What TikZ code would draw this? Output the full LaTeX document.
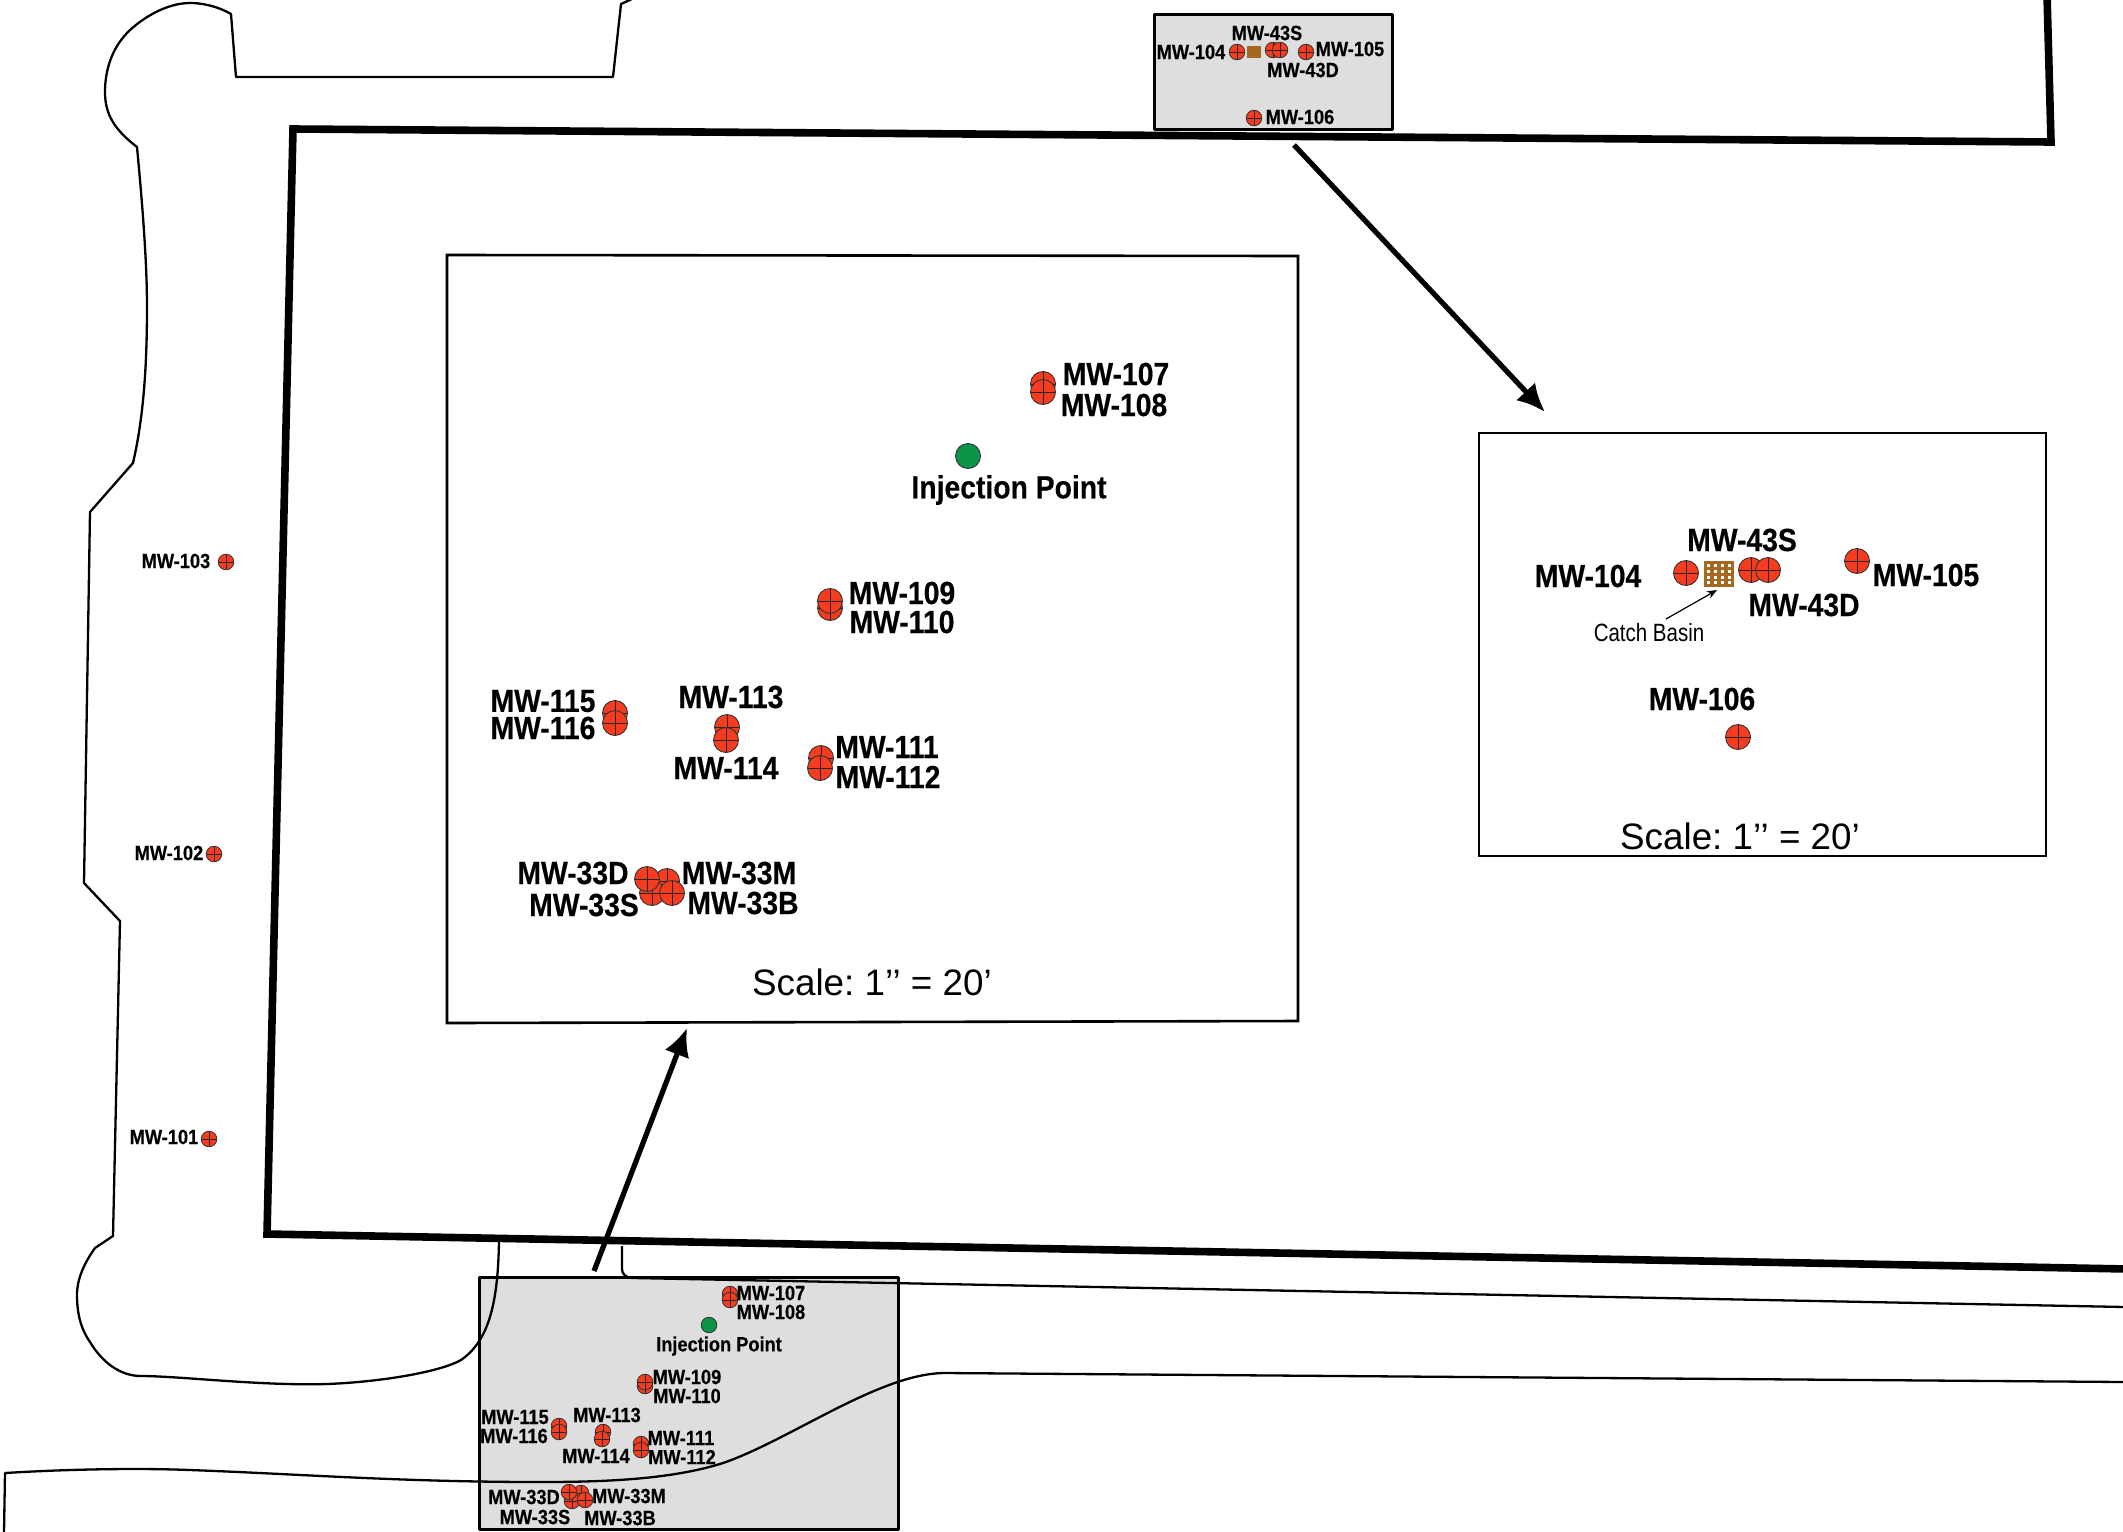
\documentclass[tikz,border=0pt]{standalone}
\usepackage{fontspec}
\setmainfont{Liberation Sans}
\newfontfamily\narrowfont[FakeStretch=0.885,BoldFeatures={FakeBold=0.3}]{Liberation Sans}
\newfontfamily\basinfont[FakeStretch=0.82]{Liberation Sans}
\usetikzlibrary{arrows.meta}
\definecolor{wellred}{HTML}{F53C1E}
\definecolor{wellgreen}{HTML}{0B9447}
\definecolor{basin}{HTML}{A5681F}
\definecolor{panelgrey}{HTML}{DEDEDE}
\tikzset{
  cross/.style={path picture={
    \draw[line width=0.42pt,black!85] (path picture bounding box.north) -- (path picture bounding box.south);
    \draw[line width=0.42pt,black!85] (path picture bounding box.west) -- (path picture bounding box.east);}},
  wellL/.style={circle,draw=black!80,line width=0.45pt,fill=wellred,inner sep=0pt,minimum size=12.5pt,cross},
  wellS/.style={circle,draw=black!80,line width=0.4pt,fill=wellred,inner sep=0pt,minimum size=7.8pt,cross},
  injL/.style={circle,draw=black!80,line width=0.45pt,fill=wellgreen,inner sep=0pt,minimum size=12.5pt},
  injS/.style={circle,draw=black!80,line width=0.4pt,fill=wellgreen,inner sep=0pt,minimum size=7.8pt},
  labL/.style={inner sep=0pt,font=\narrowfont\bfseries\fontsize{16}{16}\selectfont},
  labS/.style={inner sep=0pt,font=\narrowfont\bfseries\fontsize{10.3}{10.3}\selectfont},
  scaletxt/.style={inner sep=0pt,font=\frenchspacing\fontsize{18.4}{19}\selectfont},
  basintxt/.style={inner sep=0pt,font=\basinfont\fontsize{12.5}{13}\selectfont},
  thin line/.style={draw=black,line width=1.15pt,line join=round},
  boundary/.style={draw=black,line width=3.8pt,line join=miter},
  frame/.style={draw=black,line width=1.3pt,line join=miter},
  greypanel/.style={draw=black,fill=panelgrey,line width=1.5pt,line join=round},
  bigarrow/.style={draw=black,line width=2.6pt,-{Latex[length=14pt,width=13pt]}},
  thinarrow/.style={draw=black,line width=0.6pt,-{Stealth[length=5pt,width=4pt]}},
}
\begin{document}
\begin{tikzpicture}[x=0.5pt,y=-0.5pt]
\useasboundingbox (0,0) rectangle (2123,1531);
% grey locator panels
\draw[greypanel] (1154,14) rectangle (1392,129);
\draw[greypanel] (479,1277) rectangle (898,1529);
% site outline
\draw[thin line] (632,-1) -- (621,4) -- (613,77) -- (236,77) -- (231,14)
  .. controls (215,5) and (200,3) .. (190,3)
  .. controls (165,3) and (140,20) .. (128,32)
  .. controls (112,48) and (105,70) .. (105,92)
  .. controls (105,115) and (115,130) .. (137,147)
  .. controls (142,200) and (147,260) .. (147,307)
  .. controls (147,370) and (143,420) .. (133,463)
  -- (90,512) -- (84,883) -- (120,921) -- (113,1236)
  -- (95,1248)
  .. controls (85,1262) and (77,1278) .. (77,1295)
  .. controls (77,1318) and (83,1332) .. (90,1342)
  .. controls (102,1362) and (120,1376) .. (141,1376)
  .. controls (180,1376) and (260,1386) .. (327,1384)
  .. controls (380,1382) and (440,1372) .. (461,1360)
  .. controls (490,1340) and (498,1300) .. (499,1241);
% roads
\draw[thin line] (622,1246) -- (622,1268) .. controls (622,1275) and (626,1278) .. (634,1278) -- (2125,1307);
\draw[thin line] (4,1533) -- (5,1473) .. controls (70,1469) and (140,1468) .. (190,1470)
  .. controls (300,1474) and (400,1482) .. (540,1482)
  .. controls (600,1482) and (670,1480) .. (723,1463)
  .. controls (790,1440) and (880,1373) .. (945,1373)
  -- (2125,1382);
% thick boundary
\draw[boundary] (2047,-5) -- (2051,142) -- (293,129) -- (267,1234) -- (2128,1269);
% insets
\draw[frame] (447,255) -- (1298,256) -- (1298,1021) -- (447,1023) -- cycle;
\draw[frame] (1479,433) -- (2046,433) -- (2046,856) -- (1479,856) -- cycle;
% arrows between locator panels and insets
\coordinate (a1s) at (1294,145); \coordinate (a1e) at (1545,412);
\coordinate (a2s) at (594,1271); \coordinate (a2e) at (687,1028);
\draw[bigarrow] (a1s) -- (a1e);
\draw[bigarrow] (a2s) -- (a2e);

% ---- top grey panel
\node[rectangle,fill=basin,inner sep=0pt,minimum width=7pt,minimum height=6pt] (cbS) at (1254,52) {};
\node[wellS] (tw104) at (1237,52) {};
\node[wellS] (tw43s) at (1273,50) {};
\node[wellS] (tw43d) at (1280,50) {};
\node[wellS] (tw105) at (1306,52) {};
\node[wellS] (tw106) at (1254,118) {};
\node[labS] (tl43s) at (1267,33) {MW-43S};
\node[labS] (tl104) at (1191,52) {MW-104};
\node[labS] (tl105) at (1350,49) {MW-105};
\node[labS] (tl43d) at (1303,70) {MW-43D};
\node[labS] (tl106) at (1300,117) {MW-106};

% ---- bottom grey panel
\node[wellS] (bw107) at (730,1294) {};
\node[wellS] (bw108) at (730,1300) {};
\node[injS] (binj) at (709,1325) {};
\node[wellS] (bw110) at (645,1386) {};
\node[wellS] (bw109) at (645,1382) {};
\node[wellS] (bw115) at (559,1426) {};
\node[wellS] (bw116) at (559,1432) {};
\node[wellS] (bw113) at (603,1432) {};
\node[wellS] (bw114) at (602,1439) {};
\node[wellS] (bw111) at (641,1444) {};
\node[wellS] (bw112) at (641,1450) {};
\node[wellS] (bw33m) at (581,1493) {};
\node[wellS] (bw33s) at (572,1501) {};
\node[wellS] (bw33d) at (569,1492) {};
\node[wellS] (bw33b) at (585,1500) {};
\node[labS] at (771,1293) {MW-107};
\node[labS] at (771,1312) {MW-108};
\node[labS] at (719,1346) {Injection Point};
\node[labS] at (687,1377) {MW-109};
\node[labS] at (687,1396) {MW-110};
\node[labS] at (515,1417) {MW-115};
\node[labS] at (514,1436) {MW-116};
\node[labS] at (607,1415) {MW-113};
\node[labS] at (596,1456) {MW-114};
\node[labS] at (681,1438) {MW-111};
\node[labS] at (682,1457) {MW-112};
\node[labS] at (524,1497) {MW-33D};
\node[labS] at (629,1496) {MW-33M};
\node[labS] at (535,1517) {MW-33S};
\node[labS] at (620,1518) {MW-33B};

% ---- side wells
\node[wellS] (w103) at (226,562) {};
\node[labS] at (176,561) {MW-103};
\node[wellS] (w102) at (214,854) {};
\node[labS] at (169,853) {MW-102};
\node[wellS] (w101) at (209,1139) {};
\node[labS] at (164,1137) {MW-101};

% ---- large inset
\node[wellL] (w107) at (1043,384) {};
\node[wellL] (w108) at (1043,392) {};
\node[injL] (inj) at (968,456) {};
\node[wellL] (w110) at (830,608) {};
\node[wellL] (w109) at (830,601) {};
\node[wellL] (w115) at (615,713) {};
\node[wellL] (w116) at (615,723) {};
\node[wellL] (w113) at (727,727) {};
\node[wellL] (w114) at (726,740) {};
\node[wellL] (w111) at (821,758) {};
\node[wellL] (w112) at (820,768) {};
\node[wellL] (w33m) at (667,881) {};
\node[wellL] (w33s) at (652,893) {};
\node[wellL] (w33d) at (647,879) {};
\node[wellL] (w33b) at (672,893) {};
\node[labL] at (1116,374) {MW-107};
\node[labL] at (1114,405) {MW-108};
\node[labL] at (1009,490) {Injection Point};
\node[labL] at (902,593) {MW-109};
\node[labL] at (902,622) {MW-110};
\node[labL] at (543,701) {MW-115};
\node[labL] at (543,728) {MW-116};
\node[labL] at (731,697) {MW-113};
\node[labL] at (726,768) {MW-114};
\node[labL] at (887,747) {MW-111};
\node[labL] at (888,777) {MW-112};
\node[labL] at (573,873) {MW-33D};
\node[labL] at (739,873) {MW-33M};
\node[labL] at (584,905) {MW-33S};
\node[labL] at (743,903) {MW-33B};
\node[scaletxt] at (872,982) {Scale: 1’’ = 20’};

% ---- right inset
\node[rectangle,fill=basin,inner sep=0pt,minimum width=15pt,minimum height=13pt] (cb) at (1719,574) {};
\foreach \cx in {1708.5,1715.5,1722.5,1729.5}
  \foreach \cy in {565.5,571.5,577,582.5}
    \fill[white] (\cx-1.9,\cy-1.5) rectangle (\cx+1.9,\cy+1.5);
\node[wellL] (w104) at (1686,573) {};
\node[wellL] (w43s) at (1751,570) {};
\node[wellL] (w43d) at (1768,570) {};
\node[wellL] (w105) at (1857,561) {};
\node[wellL] (w106) at (1738,737) {};
\node[labL] at (1742,540) {MW-43S};
\node[labL] at (1588,576) {MW-104};
\node[labL] at (1804,605) {MW-43D};
\node[labL] at (1926,575) {MW-105};
\node[labL] at (1702,699) {MW-106};
\node[basintxt] (cbl) at (1649,633) {Catch Basin};
\coordinate (cbs) at (1666,619); \coordinate (cbe) at (1717,590);
\draw[thinarrow] (cbs) -- (cbe);
\node[scaletxt] at (1740,836) {Scale: 1’’ = 20’};
\end{tikzpicture}
\end{document}
